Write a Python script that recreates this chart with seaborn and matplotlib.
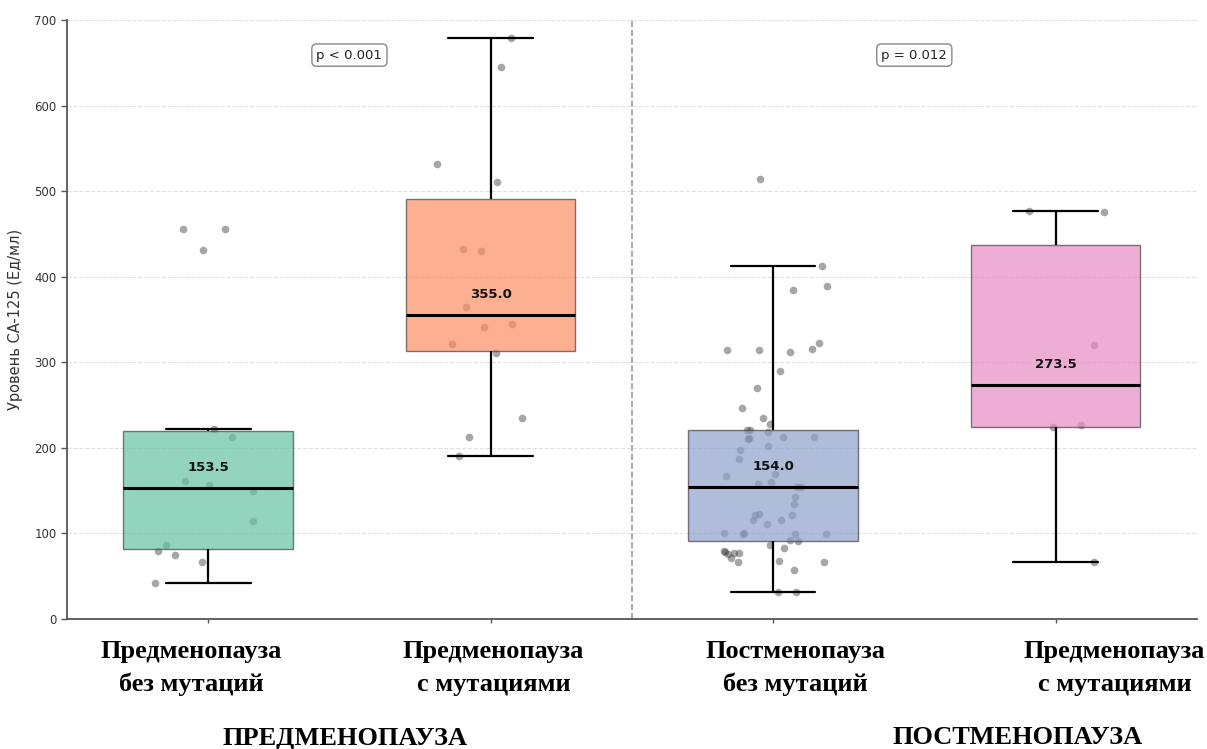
import numpy as np
import pandas as pd
import matplotlib
matplotlib.use("Agg")
import matplotlib.pyplot as plt
import matplotlib.transforms as mtransforms
import seaborn as sns

# ---------------- data ----------------
groups = ["pre_wo", "pre_w", "post_wo", "post_w"]
group_labels = ["Предменопауза\nбез мутаций", "Предменопауза\nс мутациями",
                "Постменопауза\nбез мутаций", "Предменопауза\nс мутациями"]
period_labels = ["ПРЕДМЕНОПАУЗА", "ПОСТМЕНОПАУЗА"]
y_label = "Уровень CA-125 (Ед/мл)"

pre_wo = [222, 213, 161, 157, 150, 115, 87, 75, 80, 67, 42, 431, 456, 456]
pre_w = [679, 645, 532, 511, 432, 430, 365, 345, 341, 321, 311, 235, 213, 191]
post_wo = [514, 413, 389, 385, 323, 315, 314, 314, 312, 290, 270, 246, 235, 228,
           221, 221, 219, 213, 213, 211, 210, 202, 198, 187, 169, 167, 160, 158,
           154, 154, 143, 134, 123, 121, 121, 116, 116, 111, 101, 100, 99, 99, 99,
           92, 91, 86, 83, 79, 78, 77, 77, 76, 71, 68, 67, 66, 57, 32, 32]
post_w = [477, 476, 320, 227, 224, 67]

p_labels = ["p < 0.001", "p = 0.012"]

# ---------------- figure ----------------
sns.set_theme(style="white")
plt.rcParams["font.family"] = ["DejaVu Sans"]

series = [pre_wo, pre_w, post_wo, post_w]
df = pd.DataFrame({
    "group": np.concatenate([[g] * len(v) for g, v in zip(groups, series)]),
    "value": np.concatenate([np.asarray(v, float) for v in series]),
})

palette = dict(zip(groups, sns.color_palette("Set2", 4)))

fig = plt.figure(figsize=(12.07, 7.49), dpi=100)
ax = fig.add_axes([0.0555, 0.1736, 0.936, 0.7997])

np.random.seed(3)
sns.stripplot(data=df, x="group", y="value", order=groups, color="#3a3a3a",
              alpha=0.45, size=5.5, jitter=0.2, zorder=1, ax=ax)

sns.boxplot(data=df, x="group", y="value", hue="group", order=groups,
            hue_order=groups, palette=palette, legend=False, width=0.6,
            saturation=1, showfliers=False, ax=ax,
            boxprops=dict(alpha=0.7, edgecolor="#444444", linewidth=1.0, zorder=2),
            whiskerprops=dict(color="black", linewidth=1.6),
            capprops=dict(color="black", linewidth=1.6),
            medianprops=dict(color="black", linewidth=2.2))

# median labels
for i, v in enumerate(series):
    med = np.median(v)
    ax.text(i, med + 24, f"{med:.1f}", ha="center", va="center",
            fontsize=9.5, fontweight="bold", color="#111111", zorder=5)

# p-value boxes
for xpos, lab in zip([0.5, 2.5], p_labels):
    ax.text(xpos, 659, lab, ha="center", va="center", fontsize=9.5, color="#222222",
            bbox=dict(boxstyle="round,pad=0.35", facecolor="white",
                      edgecolor="#888888", linewidth=1.0), zorder=5)

# separator
ax.axvline(1.5, color="#999999", linestyle="--", linewidth=1.2, zorder=0)

ax.set_xlim(-0.5, 3.5)
ax.set_ylim(0, 700)
ax.set_yticks(range(0, 701, 100))
ax.yaxis.grid(True, linestyle="--", color="#e0e0e0", linewidth=0.8)
ax.xaxis.grid(False)
ax.set_axisbelow(True)

for s in ["top", "right"]:
    ax.spines[s].set_visible(False)
for s in ["left", "bottom"]:
    ax.spines[s].set_color("#555555")
    ax.spines[s].set_linewidth(1.3)

ax.tick_params(axis="y", labelsize=8.5, length=4, width=1, color="#555555",
               labelcolor="#333333", left=True)
ax.tick_params(axis="x", length=3, width=1, color="#555555", pad=12, bottom=True)

ax.set_ylabel(y_label, fontsize=10.5, color="#333333", labelpad=8)
ax.set_xlabel("")

ax.set_xticks(range(len(groups)))
ax.set_xticklabels(group_labels, fontfamily="Liberation Serif", fontweight="bold",
                   fontsize=19, color="black", linespacing=1.55)
offsets_px = [-17, 3, 22, 59]
for lab, dx in zip(ax.get_xticklabels(), offsets_px):
    lab.set_transform(lab.get_transform() +
                      mtransforms.ScaledTranslation(dx / 100, 0, fig.dpi_scale_trans))

for xc, lab in zip([345, 1018], period_labels):
    fig.text(xc / 1207, 1 - 738 / 749, lab, ha="center", va="center",
             fontfamily="Liberation Serif", fontweight="bold", fontsize=19,
             color="black")

fig.savefig("out.png", dpi=100, facecolor="white")
